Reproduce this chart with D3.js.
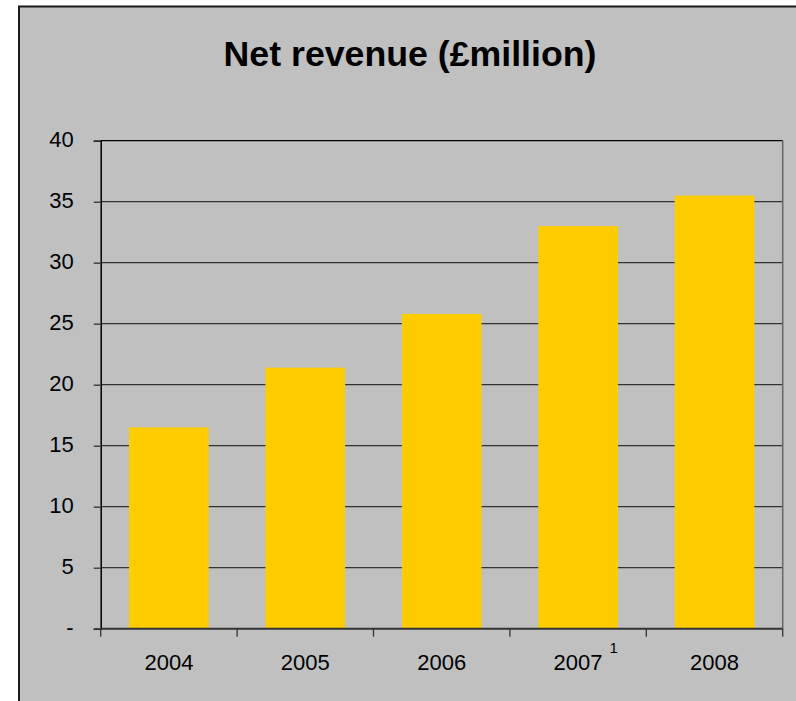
<!DOCTYPE html>
<html>
<head>
<meta charset="utf-8">
<script src="https://cdn.jsdelivr.net/npm/d3@7"></script>
<style>
  html, body { margin: 0; padding: 0; background: #ffffff; }
  svg { display: block; }
  text { font-family: "Liberation Sans", Arial, sans-serif; fill: #000; }
</style>
</head>
<body>
<svg id="chart" width="796" height="701"></svg>
<script>
// Net revenue by year, £ million
const years = ["2004", "2005", "2006", "2007", "2008"];
const revenue = [16.5, 21.4, 25.8, 33.0, 35.5];
const yTicks = [0, 5, 10, 15, 20, 25, 30, 35, 40];
const footnotes = ["", "", "", "1", ""];
const title = "Net revenue (£million)";

const svg = d3.select("#chart");
const W = 796, H = 701;

// chart panel
svg.append("rect")
  .attr("x", 19).attr("y", 6.5)
  .attr("width", W).attr("height", H)
  .attr("fill", "#c0c0c0")
  .attr("stroke", "#1a1a1a").attr("stroke-width", 2);

svg.append("text")
  .attr("x", 410).attr("y", 66)
  .attr("text-anchor", "middle")
  .attr("font-size", 35.7).attr("font-weight", "bold")
  .text(title);

const plot = { left: 100.7, right: 782.7, top: 140.7, bottom: 628.7 };

const x = d3.scaleBand()
  .domain(years)
  .range([plot.left, plot.right])
  .paddingInner(0.416)
  .paddingOuter(0.208);

const y = d3.scaleLinear()
  .domain([0, 40])
  .range([plot.bottom, plot.top]);

// horizontal gridlines
svg.append("g")
  .selectAll("line")
  .data(yTicks.filter(d => d > 0))
  .join("line")
  .attr("x1", plot.left).attr("x2", plot.right)
  .attr("y1", d => y(d)).attr("y2", d => y(d))
  .attr("stroke", d => d === 40 ? "#000" : "#333")
  .attr("stroke-width", 1.3);

// right edge of plot area
svg.append("line")
  .attr("x1", plot.right).attr("x2", plot.right)
  .attr("y1", plot.top).attr("y2", plot.bottom)
  .attr("stroke", "#666").attr("stroke-width", 1.5);

// bars
svg.append("g")
  .selectAll("rect")
  .data(years.map((d, i) => ({ year: d, value: revenue[i] })))
  .join("rect")
  .attr("x", d => x(d.year))
  .attr("width", x.bandwidth())
  .attr("y", d => y(d.value))
  .attr("height", d => y(0) - y(d.value))
  .attr("fill", "#ffcc00");

// y axis
const yAxis = d3.axisLeft(y)
  .tickValues(yTicks)
  .tickSize(7)
  .tickPadding(20)
  .tickFormat(d => d === 0 ? "-" : d3.format("d")(d));

const gy = svg.append("g")
  .attr("transform", `translate(${plot.left},0)`)
  .call(yAxis);
gy.select(".domain").attr("stroke", "#000").attr("stroke-width", 1.5);
gy.selectAll(".tick line").attr("stroke", "#333").attr("stroke-width", 1.3);
gy.selectAll(".tick text")
  .attr("font-size", 22)
  .attr("font-family", "Liberation Sans, Arial, sans-serif")
  .attr("fill", "#000")
  .attr("dy", "0.28em");

// x axis line
svg.append("line")
  .attr("x1", plot.left).attr("x2", plot.right)
  .attr("y1", plot.bottom).attr("y2", plot.bottom)
  .attr("stroke", "#333").attr("stroke-width", 2);

// category boundary ticks
const bounds = d3.range(years.length + 1).map(i => plot.left + i * x.step());
svg.append("g")
  .selectAll("line")
  .data(bounds)
  .join("line")
  .attr("x1", d => d).attr("x2", d => d)
  .attr("y1", plot.bottom).attr("y2", plot.bottom + 8)
  .attr("stroke", "#333").attr("stroke-width", 1.3);

// category labels
const labels = svg.append("g")
  .selectAll("text")
  .data(years)
  .join("text")
  .attr("x", d => x(d) + x.bandwidth() / 2)
  .attr("y", 670)
  .attr("text-anchor", "middle")
  .attr("font-size", 22)
  .text(d => d);

// footnote markers beside labels
labels.each(function(d, i) {
  if (!footnotes[i]) return;
  const w = this.getComputedTextLength();
  svg.append("text")
    .attr("x", x(d) + x.bandwidth() / 2 + w / 2 + 7)
    .attr("y", 653)
    .attr("font-size", 15)
    .text(footnotes[i]);
});
</script>
</body>
</html>
